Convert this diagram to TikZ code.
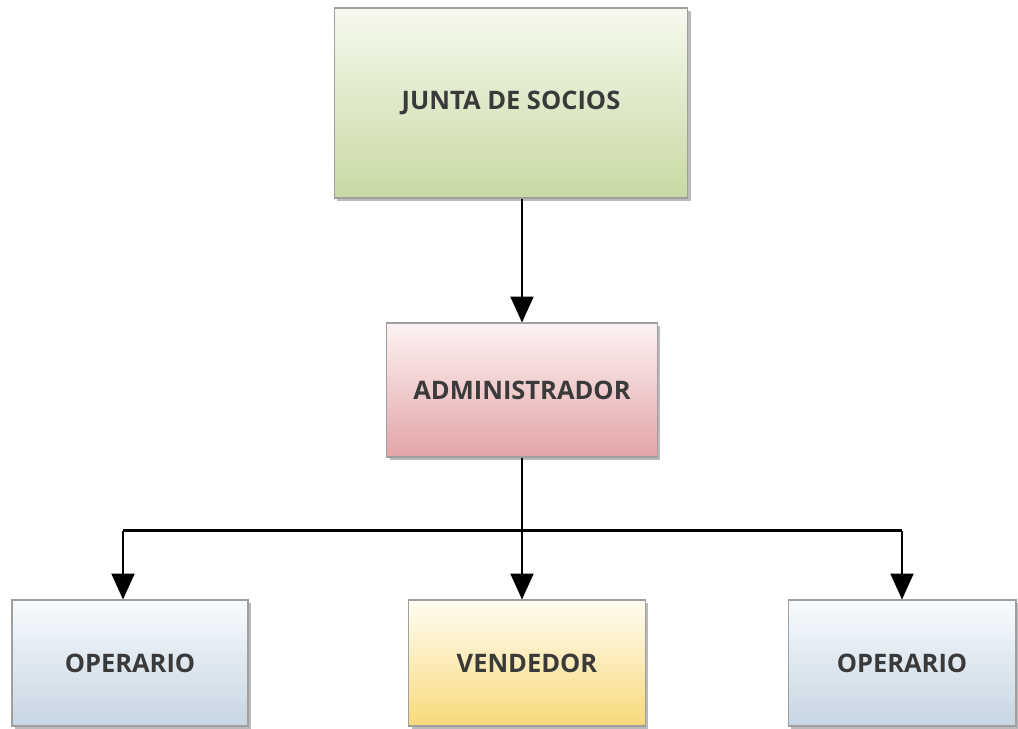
\documentclass[tikz,border=0pt]{standalone}
\usepackage{fontspec}
\setmainfont{Open Sans}
\usepackage{tikz}
\usetikzlibrary{arrows.meta}
\usetikzlibrary{shadows}
\usetikzlibrary{calc}

\definecolor{txtgray}{HTML}{3A3A3A}
\definecolor{greentop}{HTML}{F6F9EF}
\definecolor{greenbot}{HTML}{C8D9A2}
\definecolor{redtop}{HTML}{FDF3F3}
\definecolor{redbot}{HTML}{E3A4A7}
\definecolor{bluetop}{HTML}{F8FBFD}
\definecolor{bluebot}{HTML}{C6D5E2}
\definecolor{yeltop}{HTML}{FFFDF3}
\definecolor{yelbot}{HTML}{F8D97A}

\tikzset{
    cargo/.style={draw=gray!75, line width=0.6pt, inner sep=0pt,
        font=\fontsize{14.5}{16}\selectfont\bfseries, text=txtgray,
        drop shadow={shadow xshift=0.06cm, shadow yshift=-0.06cm, fill=black!60, opacity=0.45}},
    flecha/.style={line width=1.2pt, -{Triangle[length=0.52cm, width=0.46cm]}},
    linea/.style={line width=1.2pt}
}

\begin{document}
\begin{tikzpicture}[x=0.02cm, y=-0.02cm]
            \useasboundingbox (0,0) rectangle (1018,728);

            \node[cargo, minimum width=7.08cm, minimum height=3.8cm, top color=greentop, bottom color=greenbot] (junta) at (511,103) {JUNTA DE SOCIOS};
            \node[cargo, minimum width=5.42cm, minimum height=2.68cm, top color=redtop, bottom color=redbot] (admin) at (522,390) {ADMINISTRADOR};
            \node[cargo, minimum width=4.72cm, minimum height=2.52cm, top color=bluetop, bottom color=bluebot] (op1) at (130,663) {OPERARIO};
            \node[cargo, minimum width=4.74cm, minimum height=2.52cm, top color=yeltop, bottom color=yelbot] (vend) at (527,663) {VENDEDOR};
            \node[cargo, minimum width=4.56cm, minimum height=2.52cm, top color=bluetop, bottom color=bluebot] (op2) at (902,663) {OPERARIO};

            \coordinate (bus) at ($(admin.south)+(0,73)$);
            \coordinate (izq) at ($(bus -| op1.north)+(-7,0)$);
            \coordinate (der) at (bus -| op2.north);

            \draw[flecha] (junta.south -| admin.north) -- (admin.north);
            \draw[flecha] (admin.south) -- (admin.south |- vend.north);
            \draw[linea] (izq) -- (der);
            \draw[flecha] (izq) -- (izq |- op1.north);
            \draw[flecha] (der) -- (op2.north);
        \end{tikzpicture}
\end{document}
